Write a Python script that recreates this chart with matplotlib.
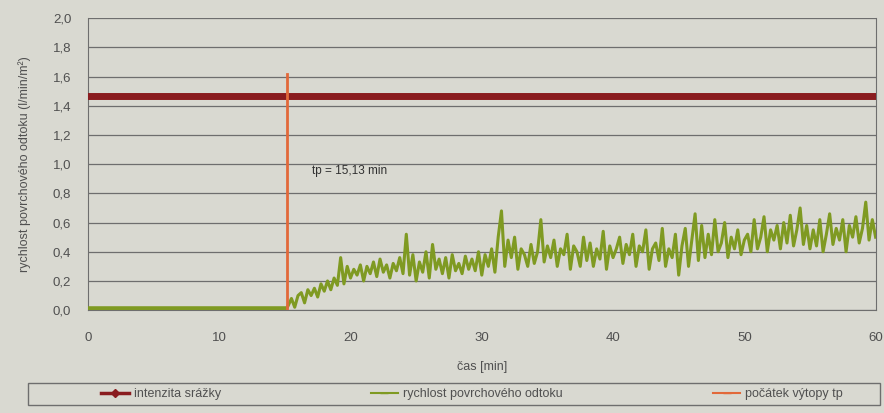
import numpy as np
import matplotlib
matplotlib.use("Agg")
import matplotlib.pyplot as plt
from matplotlib.patches import Rectangle
from matplotlib.lines import Line2D

plt.rcParams["font.family"] = ["Liberation Sans Narrow", "Liberation Sans", "DejaVu Sans"]

# rainfall intensity (constant) and start of ponding
rain_intensity = 1.47
tp = 15.13
vline_top = 1.62

# surface runoff before ponding
runoff_t0 = [0.0, tp]
runoff_v0 = [0.01, 0.01]

# surface runoff after ponding, read every 0.25 min from 15.25 to 60 min
runoff_vals = [
    0.03, 0.08, 0.02, 0.10,  0.12, 0.05, 0.14, 0.10,  0.15, 0.09, 0.18, 0.13,
    0.20, 0.14, 0.22, 0.17,  0.36, 0.18, 0.30, 0.22,  0.28, 0.24, 0.31, 0.20,
    0.30, 0.25, 0.33, 0.23,  0.35, 0.26, 0.31, 0.22,  0.32, 0.27, 0.36, 0.25,
    0.52, 0.24, 0.38, 0.20,  0.33, 0.26, 0.40, 0.22,  0.45, 0.28, 0.35, 0.25,
    0.36, 0.22, 0.38, 0.27,  0.32, 0.25, 0.37, 0.28,  0.35, 0.27, 0.40, 0.24,
    0.38, 0.30, 0.42, 0.26,  0.50, 0.68, 0.30, 0.48,  0.36, 0.50, 0.28, 0.42,
    0.38, 0.30, 0.45, 0.32,  0.40, 0.62, 0.33, 0.44,  0.36, 0.48, 0.30, 0.42,
    0.38, 0.52, 0.28, 0.44,  0.40, 0.30, 0.50, 0.34,  0.46, 0.30, 0.42, 0.35,
    0.54, 0.28, 0.44, 0.36,  0.42, 0.50, 0.32, 0.45,  0.38, 0.52, 0.30, 0.44,
    0.40, 0.55, 0.28, 0.42,  0.46, 0.34, 0.56, 0.30,  0.42, 0.36, 0.52, 0.24,
    0.44, 0.56, 0.30, 0.48,  0.66, 0.34, 0.58, 0.36,  0.52, 0.38, 0.62, 0.40,
    0.46, 0.60, 0.36, 0.50,  0.42, 0.55, 0.38, 0.48,  0.52, 0.40, 0.62, 0.42,
    0.50, 0.64, 0.40, 0.55,  0.48, 0.58, 0.42, 0.60,  0.46, 0.65, 0.44, 0.55,
    0.70, 0.45, 0.58, 0.42,  0.55, 0.44, 0.62, 0.40,  0.52, 0.66, 0.45, 0.56,
    0.48, 0.62, 0.40, 0.58,  0.50, 0.64, 0.46, 0.56,  0.74, 0.48, 0.62, 0.50,
]
runoff_t = np.arange(len(runoff_vals)) * 0.25 + 15.25

x_ticks = [0, 10, 20, 30, 40, 50, 60]
y_ticks = [0.0, 0.2, 0.4, 0.6, 0.8, 1.0, 1.2, 1.4, 1.6, 1.8, 2.0]

bg = "#d9d9d1"
green = "#7f9a22"
red = "#8a1c1f"
orange = "#e2693a"
txt = "#505050"

fig = plt.figure(figsize=(8.84, 4.13), dpi=100, facecolor=bg)
ax = fig.add_axes([0.0995, 0.249, 0.891, 0.707], facecolor=bg)

ax.plot(runoff_t0, runoff_v0, color=green, lw=4, solid_capstyle="butt", zorder=3)
ax.plot(np.concatenate([[tp], runoff_t]), np.concatenate([[0.01], runoff_vals]),
        color=green, lw=2.2, zorder=3)
ax.axhline(rain_intensity, color=red, lw=5, zorder=4)
ax.plot([tp, tp], [0, vline_top], color=orange, lw=2, zorder=5)

ax.text(17.1, 0.95, "tp = 15,13 min", fontsize=8.5, color="#303030", va="center")

ax.set_xlim(0, 60)
ax.set_ylim(0, 2.0)
ax.set_xticks(x_ticks)
ax.set_yticks(y_ticks)
ax.set_yticklabels([f"{v:.1f}".replace(".", ",") for v in y_ticks])
ax.yaxis.grid(True, color="#6e6e6e", lw=0.9)
ax.set_axisbelow(True)
ax.tick_params(axis="y", length=0, labelsize=9.5, colors=txt, pad=12)
ax.tick_params(axis="x", length=0, labelsize=9.5, colors=txt, pad=16)
for side in ["left", "right", "bottom"]:
    ax.spines[side].set_color("#6e6e6e")
ax.spines["top"].set_visible(False)

ax.set_xlabel("čas [min]", fontsize=9, color=txt, labelpad=12)
ax.set_ylabel("rychlost povrchového odtoku (l/min/m²)", fontsize=9, color=txt, labelpad=16)

fig.patches.append(Rectangle((0.032, 0.019), 0.963, 0.053, transform=fig.transFigure,
                             fill=False, edgecolor="#6e6e6e", lw=1))
handles = [
    Line2D([], [], color=red, lw=2.5, marker="D", ms=4),
    Line2D([], [], color=green, lw=1.5, marker="_", ms=6),
    Line2D([], [], color=orange, lw=1.5, marker="_", ms=6),
]
labels = ["intenzita srážky", "rychlost povrchového odtoku", "počátek výtopy tp"]
fig.legend(handles, labels, loc="center", bbox_to_anchor=(0.534, 0.0455), ncol=3,
           frameon=False, fontsize=9, columnspacing=12, handlelength=2.2,
           handletextpad=0.4, labelcolor=txt)

fig.savefig("out.png", dpi=100, facecolor=bg)
